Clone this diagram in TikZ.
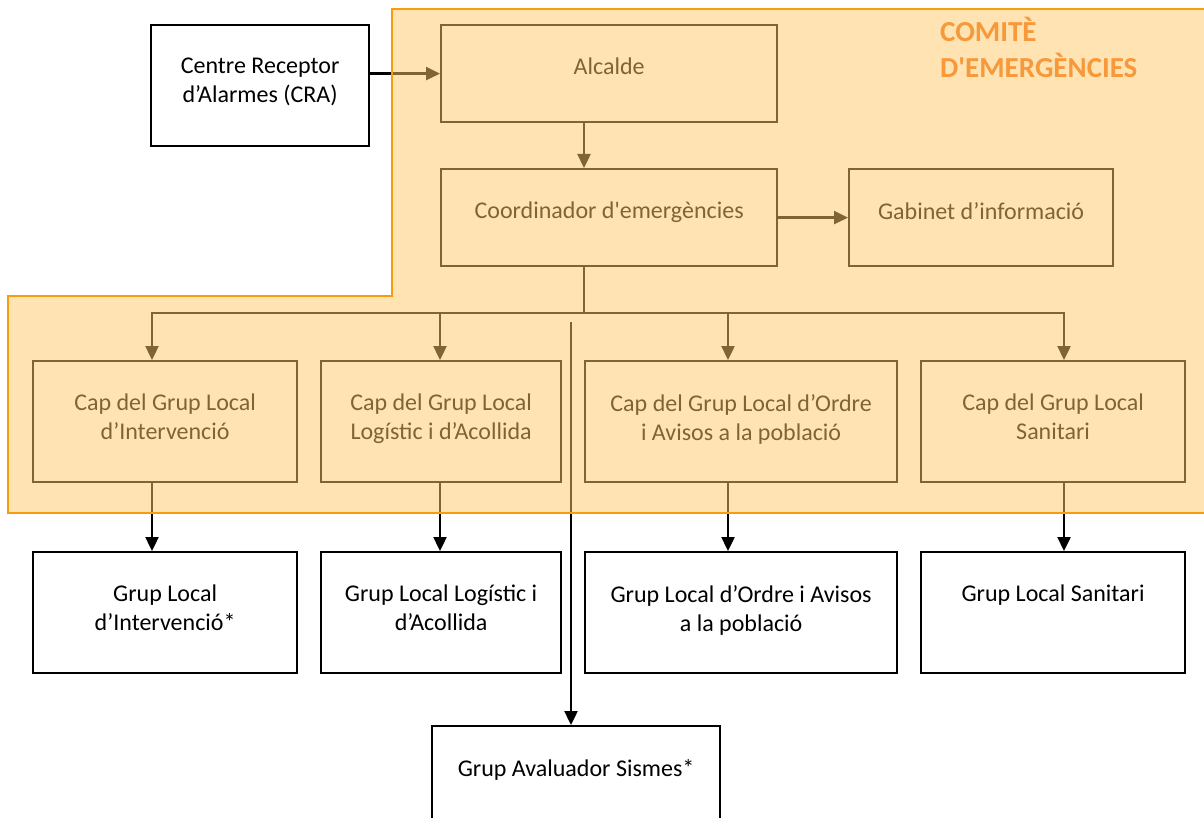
\documentclass[tikz,border=0pt]{standalone}
\usepackage{fontspec}
\setmainfont{Carlito}
\usetikzlibrary{arrows.meta}
\definecolor{ovl}{HTML}{FFC866}
\definecolor{obord}{HTML}{F59D0E}
\definecolor{otitle}{HTML}{F7993A}
\begin{document}
\begin{tikzpicture}[x=1pt,y=-1pt,
  box/.style={draw=black,line width=2.2pt,fill=white,inner sep=0pt,anchor=north west},
  txt/.style={anchor=north,inner sep=0pt,align=center,font=\fontsize{24}{29}\selectfont},
  conn/.style={line width=2.4pt,-{Triangle[length=14pt,width=13pt]}},
  plain/.style={line width=2.4pt},
  ttl/.style={anchor=base west,inner sep=0pt,text=otitle,font=\fontsize{29}{37}\selectfont\bfseries}
]
\useasboundingbox (0,0) rectangle (1204,818);
\fill[white] (0,0) rectangle (1204,818);

% boxes
\node[box,minimum width=218pt,minimum height=121pt] (cra) at (150,24) {};
\node[box,minimum width=336pt,minimum height=97pt] (alc) at (440,24) {};
\node[box,minimum width=336pt,minimum height=97pt] (coord) at (440,168) {};
\node[box,minimum width=264pt,minimum height=97pt] (gab) at (848,168) {};
\node[box,minimum width=264pt,minimum height=121pt] (cap1) at (32,360) {};
\node[box,minimum width=240pt,minimum height=121pt] (cap2) at (320,360) {};
\node[box,minimum width=312pt,minimum height=121pt] (cap3) at (584,360) {};
\node[box,minimum width=264pt,minimum height=121pt] (cap4) at (920,360) {};
\node[box,minimum width=264pt,minimum height=121pt] (g1) at (32,551) {};
\node[box,minimum width=240pt,minimum height=121pt] (g2) at (320,551) {};
\node[box,minimum width=312pt,minimum height=121pt] (g3) at (584,551) {};
\node[box,minimum width=264pt,minimum height=121pt] (g4) at (920,551) {};
\node[box,minimum width=288pt,minimum height=120pt] (aval) at (431,725) {};

% texts
\node[txt] (tcra) at ([yshift=-34pt]cra.north) {Centre Receptor\\d’Alarmes (CRA)};
\node[txt] (talc) at ([yshift=-34pt]alc.north) {Alcalde};
\node[txt] (tcoord) at ([yshift=-34pt]coord.north) {Coordinador d\textquotesingle emergències};
\node[txt] (tgab) at ([yshift=-34pt]gab.north) {Gabinet d’informació};
\node[txt] (tcap1) at ([yshift=-34pt]cap1.north) {Cap del Grup Local\\d’Intervenció};
\node[txt] (tcap2) at ([yshift=-34pt]cap2.north) {Cap del Grup Local\\Logístic i d’Acollida};
\node[txt] (tcap3) at ([yshift=-34pt]cap3.north) {Cap del Grup Local d’Ordre\\i Avisos a la població};
\node[txt] (tcap4) at ([yshift=-34pt]cap4.north) {Cap del Grup Local\\Sanitari};
\node[txt] (tg1) at ([yshift=-34pt]g1.north) {Grup Local\\d’Intervenció*};
\node[txt] (tg2) at ([yshift=-34pt]g2.north) {Grup Local Logístic i\\d’Acollida};
\node[txt] (tg3) at ([yshift=-34pt]g3.north) {Grup Local d’Ordre i Avisos\\a la població};
\node[txt] (tg4) at ([yshift=-34pt]g4.north) {Grup Local Sanitari};
\node[txt] (taval) at ([yshift=-34pt]aval.north) {Grup Avaluador Sismes*};

% connectors
\coordinate (trunk) at (584,313);
\coordinate (b1) at (152,313);
\coordinate (b2) at (440,313);
\coordinate (b3) at (728,313);
\coordinate (b4) at (1064,313);
\coordinate (av) at (571,322);

\draw[conn] (alc.west -| cra.east) -- (alc.west);
\draw[conn] (trunk |- alc.south) -- (trunk |- coord.north);
\draw[plain] (trunk |- coord.south) -- (trunk);
\draw[conn] (coord.east) -- (gab.west);
\draw[plain,line cap=rect] (b1) -- (b4);
\foreach \i in {1,2,3,4}{
  \draw[conn] (b\i) -- (b\i |- cap\i.north);
  \draw[conn] (b\i |- cap\i.south) -- (b\i |- g\i.north);
}
\draw[conn] (av) -- (av |- aval.north);

% committee overlay
\fill[ovl,fill opacity=0.5] (392,9) -- (1215,9) -- (1215,513) -- (8,513) -- (8,296) -- (392,296) -- cycle;
\draw[obord,line width=2.5pt] (1215,9) -- (392,9) -- (392,296) -- (8,296) -- (8,513) -- (1215,513);

\node[ttl] (ti1) at (940,42) {COMITÈ};
\node[ttl] (ti2) at (940,78) {D\textquotesingle EMERGÈNCIES};
\end{tikzpicture}
\end{document}
